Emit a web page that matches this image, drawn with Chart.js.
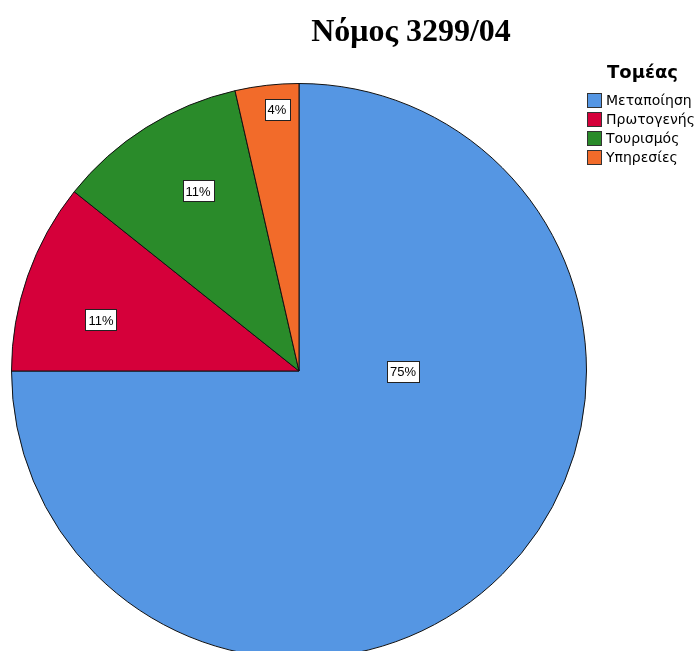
<!DOCTYPE html>
<html>
<head>
<meta charset="utf-8">
<script src="https://cdn.jsdelivr.net/npm/chart.js@4/dist/chart.umd.min.js"></script>
<style>
  html, body { margin: 0; padding: 0; background: #fff; overflow: hidden; }
  #wrap { width: 699px; height: 651px; overflow: hidden; position: relative; }
  canvas { display: block; }
</style>
</head>
<body>
<div id="wrap"><canvas id="c" width="699" height="700"></canvas></div>
<script>
const chartTitle = "Νόμος 3299/04";
const legendTitle = "Τομέας";
const categories = ["Μεταποίηση", "Πρωτογενής", "Τουρισμός", "Υπηρεσίες"];
const counts = [21, 3, 3, 1];
const percentLabels = ["75%", "11%", "11%", "4%"];
const colors = ["#5596E3", "#D5003A", "#2A8B2A", "#F26B2A"];

// label placement style: fraction of radius and angle (deg from 12 o'clock, clockwise)
const labelStyle = [
  { f: 0.363, a: 90 },
  { f: 0.712, a: -75.5 },
  { f: 0.718, a: -29.2 },
  { f: 0.913, a: -4.8 }
];

const overlay = {
  id: 'overlay',
  afterDatasetsDraw(chart) {
    const ctx = chart.ctx;
    const meta = chart.getDatasetMeta(0);
    ctx.save();
    ctx.font = '13px "Liberation Sans", Arial, sans-serif';
    ctx.textAlign = 'center';
    ctx.textBaseline = 'middle';
    meta.data.forEach((arc, i) => {
      const r = arc.outerRadius;
      const ang = labelStyle[i].a * Math.PI / 180;
      const x = arc.x + Math.sin(ang) * r * labelStyle[i].f;
      const y = arc.y - Math.cos(ang) * r * labelStyle[i].f;
      const w = ctx.measureText(percentLabels[i]).width + 6;
      const h = 21;
      ctx.fillStyle = '#fff';
      ctx.fillRect(Math.round(x - w / 2), Math.round(y - h / 2), Math.round(w), h);
      ctx.strokeStyle = '#222';
      ctx.lineWidth = 1;
      ctx.strokeRect(Math.round(x - w / 2) + 0.5, Math.round(y - h / 2) + 0.5, Math.round(w), h);
      ctx.fillStyle = '#000';
      ctx.fillText(percentLabels[i], Math.round(x), Math.round(y) + 1);
    });
    ctx.restore();
  },
  afterDraw(chart) {
    const ctx = chart.ctx;
    ctx.save();
    ctx.fillStyle = '#000';
    ctx.font = 'bold 32px "Liberation Serif", "Times New Roman", serif';
    ctx.textAlign = 'center';
    ctx.textBaseline = 'alphabetic';
    ctx.fillText(chartTitle, 411, 41);
    // legend
    ctx.font = 'bold 18px "DejaVu Sans", sans-serif';
    ctx.textAlign = 'left';
    ctx.fillText(legendTitle, 607, 78);
    ctx.font = '14px "DejaVu Sans", sans-serif';
    ctx.textBaseline = 'middle';
    chart.data.labels.forEach((lab, i) => {
      const cy = 100.5 + i * 19;
      ctx.fillStyle = chart.data.datasets[0].backgroundColor[i];
      ctx.fillRect(587, Math.round(cy - 7.5), 15, 15);
      ctx.strokeStyle = '#333';
      ctx.lineWidth = 1;
      ctx.strokeRect(587.5, Math.round(cy - 7.5) + 0.5, 14, 14);
      ctx.fillStyle = '#000';
      ctx.fillText(lab, 606, cy + 1);
    });
    ctx.restore();
  }
};

new Chart(document.getElementById('c'), {
  type: 'pie',
  data: {
    labels: categories,
    datasets: [{
      data: counts,
      backgroundColor: colors,
      borderColor: '#111',
      borderWidth: 1
    }]
  },
  options: {
    responsive: false,
    animation: false,
    layout: { padding: { left: 11, right: 112, top: 83, bottom: 41 } },
    plugins: {
      legend: { display: false },
      title: { display: false },
      tooltip: { enabled: false }
    }
  },
  plugins: [overlay]
});
</script>
</body>
</html>
